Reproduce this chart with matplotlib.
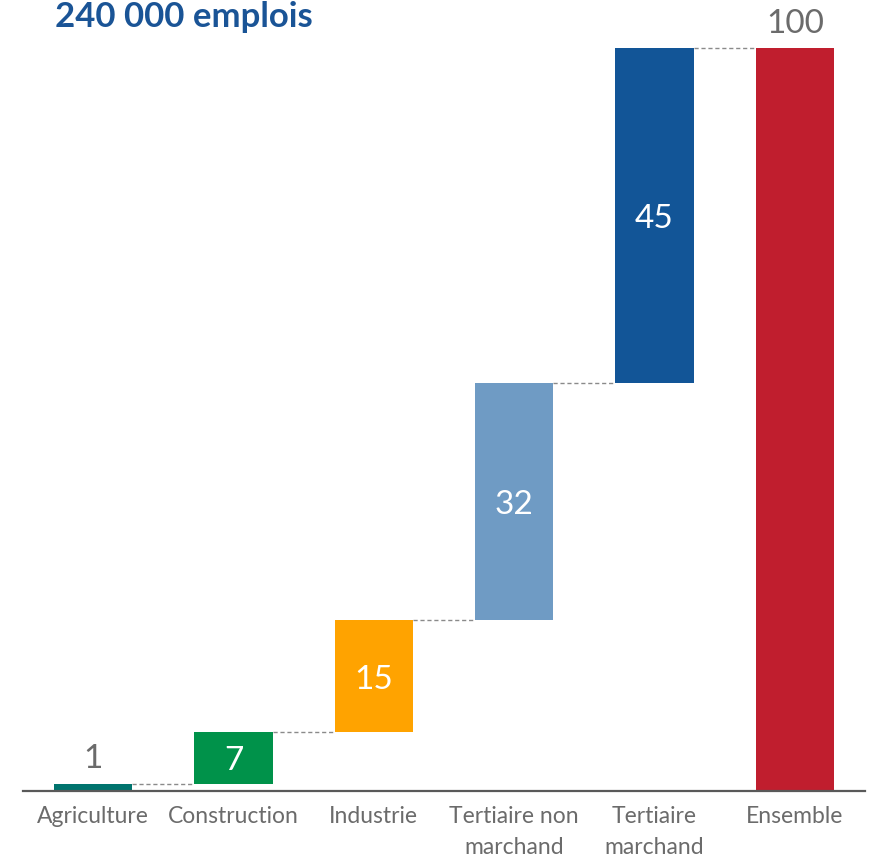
import matplotlib.pyplot as plt

# parts de l'emploi par secteur (%)
categories = ["Agriculture", "Construction", "Industrie",
              "Tertiaire non\nmarchand", "Tertiaire\nmarchand", "Ensemble"]
values = [1, 7, 15, 32, 45, 100]
colors = ["#00746e", "#00924a", "#ffa300", "#6f9bc4", "#125597", "#c01e2e"]
title = "240 000 emplois"

fam = ["Lato", "DejaVu Sans"]
grey = "#6b6b6b"

fig = plt.figure(figsize=(8.74, 8.63), dpi=100)
ax = fig.add_axes([23 / 874, 1 - 791 / 863, 842 / 874, 791 / 863])

# bases du waterfall
bottoms = []
cum = 0
for i, v in enumerate(values):
    if i == len(values) - 1:
        bottoms.append(0)
    else:
        bottoms.append(cum)
        cum += v

x = list(range(len(values)))
w = 0.56
ax.bar(x, values, bottom=bottoms, width=w, color=colors, zorder=2)

# traits pointilles entre les barres
for i in range(len(values) - 1):
    top = bottoms[i] + values[i]
    ax.plot([x[i] + w / 2, x[i + 1] - w / 2], [top, top], ls=(0, (3, 2)),
            color="#8a8a8a", lw=1, zorder=1)

# etiquettes de valeurs
for i, v in enumerate(values):
    if v < 3 or i == len(values) - 1:
        ax.text(x[i], bottoms[i] + v + 1.3, str(v), ha="center", va="bottom",
                color=grey, fontsize=24, family=fam)
    else:
        ax.text(x[i], bottoms[i] + v / 2 - 0.5, str(v), ha="center", va="center",
                color="white", fontsize=24, family=fam)

ax.set_xlim(-0.5, 5.5)
ax.set_ylim(0, 106.5)
ax.set_xticks(x)
ax.set_xticklabels(categories, fontsize=16.5, color=grey, family=fam, linespacing=1.55)
ax.tick_params(axis="x", length=0, pad=11)
ax.set_yticks([])
for s in ["left", "right", "top"]:
    ax.spines[s].set_visible(False)
ax.spines["bottom"].set_color("#595959")
ax.spines["bottom"].set_linewidth(1.6)

fig.text(55 / 874, 1 - 27 / 863, title, ha="left", va="baseline",
         fontsize=25, fontweight="bold", color="#1a5496", family=fam)

fig.savefig("out.png", dpi=100)
